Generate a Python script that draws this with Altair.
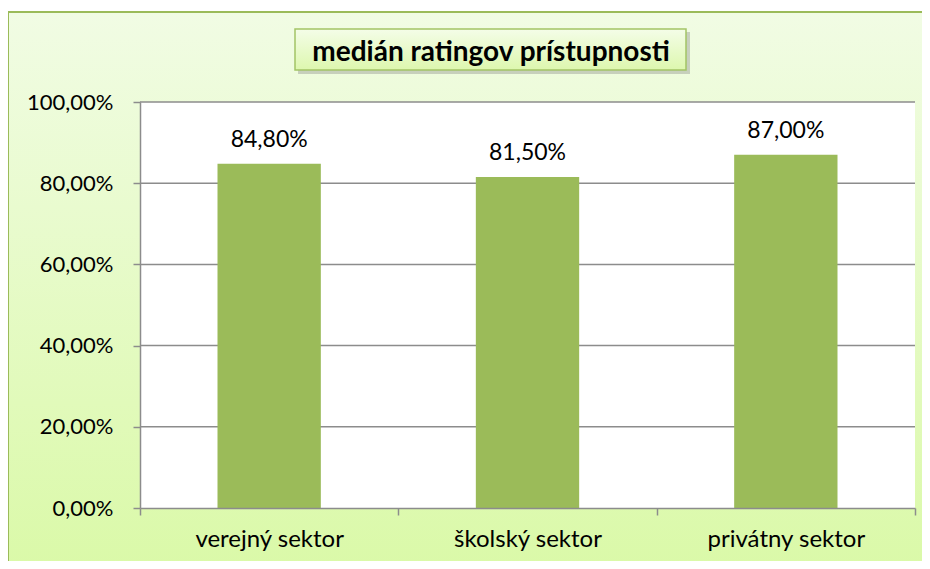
import altair as alt
import pandas as pd

# ---- data ----
categories = ["verejný sektor", "školský sektor", "privátny sektor"]
values = [84.8, 81.5, 87.0]
y_ticks = [0, 20, 40, 60, 80, 100]
grid_values = [20, 40, 60, 80, 100]
title_text = "medián ratingov prístupnosti"

W, H = 775, 406
FONT = "Lato"
AXIS_COLOR = "#8C8C8C"
BAR_COLOR = "#9BBB59"

df = pd.DataFrame({"sektor": categories, "hodnota": values})
grid_df = pd.DataFrame({"g": grid_values})
one = alt.InlineData(values=[{"k": 1}])

label_expr = "replace(format(datum.value, '.2f'), '.', ',') + '%'"

y_axis = alt.Axis(
    values=y_ticks, labelExpr=label_expr, title=None, grid=False, zindex=1,
    domainColor=AXIS_COLOR, domainWidth=1.5, tickColor=AXIS_COLOR, tickWidth=1.5,
    tickSize=7, labelPadding=20, labelFont=FONT, labelFontSize=22, labelColor="#000000",
)
y_scale = alt.Scale(domain=[0, 100], nice=False)

x_enc = alt.X(
    "sektor:N", sort=categories,
    scale=alt.Scale(paddingInner=0, paddingOuter=0),
    axis=alt.Axis(
        title=None, labelAngle=0, grid=False, zindex=1, tickBand="extent",
        domainColor=AXIS_COLOR, domainWidth=1.5, tickColor=AXIS_COLOR, tickWidth=1.5,
        tickSize=7, labelPadding=31, labelBaseline="alphabetic",
        labelFont=FONT, labelFontSize=24, labelColor="#000000",
    ),
)

bg_gradient = {
    "gradient": "linear", "x1": 0, "y1": 0, "x2": 0, "y2": 1,
    "stops": [{"offset": 0, "color": "#F1FCE4"}, {"offset": 1, "color": "#D9F9A5"}],
}
box_gradient = {
    "gradient": "linear", "x1": 0, "y1": 0, "x2": 0, "y2": 1,
    "stops": [{"offset": 0, "color": "#F4FDE8"}, {"offset": 1, "color": "#DDF7AE"}],
}

bg = alt.Chart(one).mark_rect(fill=bg_gradient, stroke=BAR_COLOR, strokeWidth=2).encode(
    x=alt.value(-132), x2=alt.value(W + 60), y=alt.value(-90), y2=alt.value(H + 90)
)
plot_bg = alt.Chart(one).mark_rect(fill="white").encode(
    x=alt.value(0), x2=alt.value(W), y=alt.value(0), y2=alt.value(H)
)
grid = alt.Chart(grid_df).mark_rule(color=AXIS_COLOR, strokeWidth=1.5).encode(
    y=alt.Y("g:Q", scale=y_scale, axis=y_axis), x=alt.value(0), x2=alt.value(W)
)
bars = alt.Chart(df).mark_bar(color=BAR_COLOR, width=alt.RelativeBandSize(0.4)).encode(
    x=x_enc, y=alt.Y("hodnota:Q", scale=y_scale, axis=y_axis)
)
labels = alt.Chart(df).transform_calculate(
    lbl="replace(format(datum.hodnota, '.2f'), '.', ',') + '%'"
).mark_text(font=FONT, fontSize=23, color="#000000", baseline="alphabetic", dy=-17).encode(
    x=x_enc, y=alt.Y("hodnota:Q", scale=y_scale, axis=y_axis), text="lbl:N"
)
shadow = alt.Chart(one).mark_rect(fill="#7F7F7F", opacity=0.35).encode(
    x=alt.value(158), x2=alt.value(550), y=alt.value(-70), y2=alt.value(-28)
)
title_box = alt.Chart(one).mark_rect(fill=box_gradient, stroke="#A2C465", strokeWidth=1.5).encode(
    x=alt.value(155), x2=alt.value(546), y=alt.value(-73), y2=alt.value(-32)
)
title = alt.Chart(one).mark_text(
    text=title_text, font=FONT, fontSize=28, fontWeight="bold", color="#000000",
    baseline="alphabetic", align="center",
).encode(x=alt.value(351), y=alt.value(-41))

chart = alt.layer(bg, plot_bg, grid, bars, labels, shadow, title_box, title).properties(
    width=W, height=H,
    padding={"left": 132, "top": 94, "right": 7, "bottom": 53},
    autosize=alt.AutoSizeParams(type="none"),
).configure_view(stroke=None).configure(background="white")

chart.save("out.html", embed_options={"renderer": "svg", "actions": False})
